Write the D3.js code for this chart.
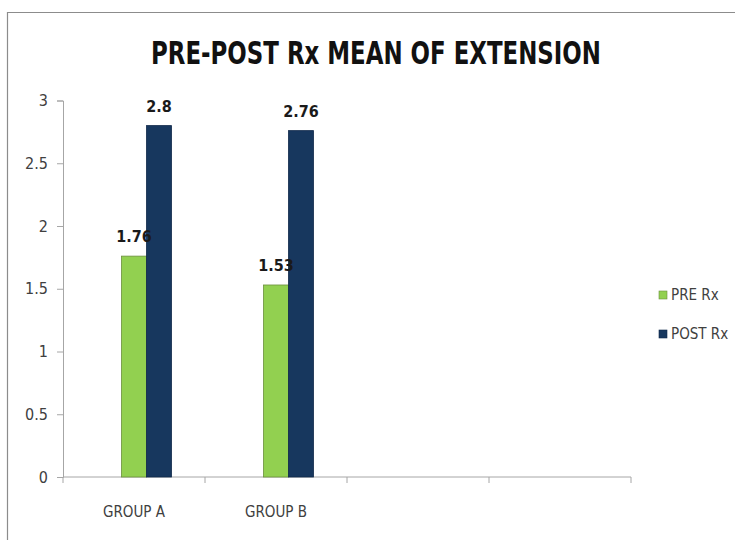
<!DOCTYPE html>
<html>
<head>
<meta charset="utf-8">
<script src="https://cdn.jsdelivr.net/npm/d3@7/dist/d3.min.js"></script>
<style>
  html, body { margin: 0; padding: 0; background: #fff; }
  svg { display: block; }
  text { font-family: "Liberation Sans Narrow", "DejaVu Sans Condensed", "Open Sans", sans-serif; }
</style>
</head>
<body>
<svg id="chart" width="735" height="540"></svg>
<script>
// Chart data
const title = "PRE-POST Rx MEAN OF EXTENSION";
const categories = ["GROUP A", "GROUP B", "", ""];
const seriesNames = ["PRE Rx", "POST Rx"];
const preValues = [1.76, 1.53, null, null];
const postValues = [2.8, 2.76, null, null];
const yTicks = [0, 0.5, 1, 1.5, 2, 2.5, 3];
const seriesColors = ["#92D050", "#17375E"];

const svg = d3.select("#chart");

// Outer chart frame
svg.append("path")
  .attr("d", "M7.5,545 V12.5 H740")
  .attr("fill", "none")
  .attr("stroke", "#8c8c8c")
  .attr("stroke-width", 1.2);

const plot = { left: 63, right: 631, top: 100.5, bottom: 477 };

const x = d3.scaleBand()
  .domain(d3.range(categories.length))
  .range([plot.left, plot.right])
  .paddingInner(0).paddingOuter(0);

// Three slots per category: the first one stays empty, then PRE, then POST
const slots = ["", ...seriesNames];
const xInner = d3.scaleBand()
  .domain(slots)
  .range([0, x.bandwidth()])
  .paddingInner(0)
  .paddingOuter(1.34);

const y = d3.scaleLinear().domain([0, 3]).range([plot.bottom, plot.top]);

// Title
svg.append("text")
  .attr("x", 376)
  .attr("y", 64)
  .attr("text-anchor", "middle")
  .attr("font-size", 32)
  .attr("font-weight", "bold")
  .attr("fill", "#111")
  .attr("textLength", 450)
  .attr("lengthAdjust", "spacingAndGlyphs")
  .text(title);

// Y axis
const yAxis = svg.append("g")
  .attr("transform", `translate(${plot.left},0)`)
  .call(d3.axisLeft(y).tickValues(yTicks).tickSize(6).tickPadding(9)
    .tickFormat(d => String(d)));
yAxis.select(".domain").attr("stroke", "#a6a6a6");
yAxis.selectAll(".tick line").attr("stroke", "#a6a6a6");
yAxis.selectAll(".tick text")
  .attr("font-size", 16)
  .attr("fill", "#404040");

// X axis (category boundaries as ticks)
const xAxis = svg.append("g")
  .attr("transform", `translate(0,${plot.bottom})`);
xAxis.append("line")
  .attr("x1", plot.left).attr("x2", plot.right)
  .attr("stroke", "#a6a6a6");
const boundaries = d3.range(categories.length + 1)
  .map(i => i < categories.length ? x(i) : x(i - 1) + x.bandwidth());
xAxis.selectAll("line.tick")
  .data(boundaries)
  .join("line")
  .attr("class", "tick")
  .attr("x1", d => d).attr("x2", d => d)
  .attr("y1", 0).attr("y2", 6)
  .attr("stroke", "#a6a6a6");
xAxis.selectAll("text")
  .data(categories)
  .join("text")
  .attr("x", (d, i) => x(i) + x.bandwidth() / 2)
  .attr("y", 40)
  .attr("text-anchor", "middle")
  .attr("font-size", 15)
  .attr("fill", "#404040")
  .text(d => d);

// Bars
const seriesValues = [preValues, postValues];
const barData = [];
seriesNames.forEach((name, si) => {
  seriesValues[si].forEach((v, ci) => {
    if (v != null) barData.push({ series: name, si, ci, value: v });
  });
});

const bars = svg.append("g");
bars.selectAll("rect")
  .data(barData)
  .join("rect")
  .attr("x", d => x(d.ci) + xInner(d.series))
  .attr("y", d => y(d.value))
  .attr("width", xInner.bandwidth())
  .attr("height", d => y(0) - y(d.value))
  .attr("fill", d => seriesColors[d.si])
  .attr("stroke", d => d.si === 0 ? "#6c8f3c" : "#10284a")
  .attr("stroke-width", 0.8);

// Value labels
svg.append("g").selectAll("text")
  .data(barData)
  .join("text")
  .attr("x", d => x(d.ci) + xInner(d.series) + xInner.bandwidth() / 2)
  .attr("y", d => y(d.value) - 14)
  .attr("text-anchor", "middle")
  .attr("font-size", 16)
  .attr("font-weight", "bold")
  .attr("fill", "#1a1a1a")
  .text(d => d.value);

// Legend
const legend = svg.append("g").attr("transform", "translate(659,0)");
const legendY = [295, 334];
seriesNames.forEach((name, i) => {
  legend.append("rect")
    .attr("x", 0).attr("y", legendY[i] - 4)
    .attr("width", 8).attr("height", 8)
    .attr("fill", seriesColors[i])
    .attr("stroke", i === 0 ? "#6c8f3c" : "#10284a")
    .attr("stroke-width", 0.6);
  legend.append("text")
    .attr("x", 12).attr("y", legendY[i])
    .attr("dy", "0.35em")
    .attr("font-size", 15)
    .attr("fill", "#404040")
    .text(name);
});
</script>
</body>
</html>
